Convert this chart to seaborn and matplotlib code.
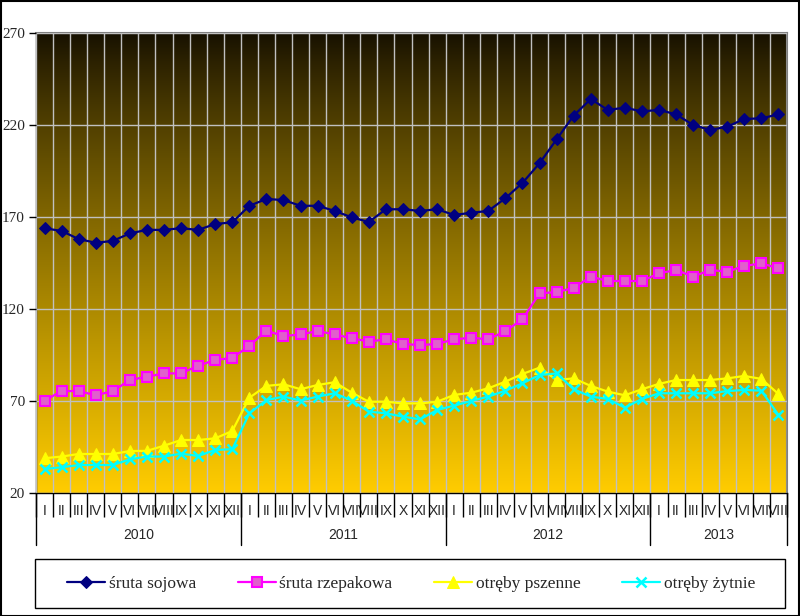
import numpy as np
import pandas as pd
import matplotlib
matplotlib.use("Agg")
import matplotlib.pyplot as plt
import matplotlib.transforms as mtransforms
from matplotlib.patches import Rectangle
from matplotlib.lines import Line2D
import seaborn as sns

months = ["I", "II", "III", "IV", "V", "VI", "VII", "VIII", "IX", "X", "XI", "XII"]
years = ["2010", "2011", "2012", "2013"]
months_per_year = [12, 12, 12, 8]
month_labels = months * 3 + months[:8]

soja = [163.9, 162.4, 158.0, 156.0, 157.0, 161.1, 163.0, 163.0, 163.9, 163.0, 166.2, 167.1,
        176.1, 179.8, 179.2, 176.1, 176.1, 173.3, 169.8, 167.3, 174.2, 174.2, 173.3, 174.2,
        171.1, 172.3, 173.3, 180.2, 188.5, 199.2, 212.2, 225.1, 234.1, 228.2, 229.4, 227.4,
        228.2, 225.8, 220.0, 217.3, 219.1, 223.3, 223.6, 225.8]
rzepak = [70.2, 75.4, 75.4, 73.1, 75.4, 81.4, 83.2, 85.0, 85.0, 89.2, 92.3, 93.4,
          100.0, 108.2, 105.3, 106.2, 108.0, 106.2, 104.1, 102.3, 103.5, 101.0, 100.4, 101.0,
          103.5, 104.4, 103.5, 108.0, 114.4, 128.5, 129.2, 131.4, 137.6, 135.2, 135.2, 135.2,
          139.4, 141.2, 137.6, 141.2, 140.3, 143.4, 144.8, 142.1]
pszenne = [38.9, 39.8, 41.2, 41.2, 41.2, 42.8, 42.9, 45.7, 48.8, 48.8, 49.7, 53.7,
           71.8, 78.2, 79.1, 76.4, 78.7, 80.2, 74.5, 69.6, 69.6, 68.7, 68.7, 69.6,
           73.3, 74.5, 76.9, 80.5, 84.7, 88.1, 81.4, 82.3, 78.2, 75.1, 73.1, 76.4,
           79.3, 81.4, 81.4, 81.4, 82.3, 83.6, 82.0, 73.8]
zytnie = [33.0, 34.0, 35.2, 35.2, 35.2, 38.3, 39.8, 39.8, 41.4, 40.1, 43.4, 43.8,
          63.3, 70.5, 72.4, 70.2, 72.4, 74.2, 70.2, 64.2, 63.3, 61.5, 60.0, 65.1,
          67.5, 70.0, 72.4, 75.6, 79.6, 84.1, 85.0, 76.4, 72.4, 71.1, 66.4, 71.1,
          74.2, 74.2, 74.2, 74.2, 75.4, 76.0, 75.6, 62.4]
series_names = ["śruta sojowa", "śruta rzepakowa", "otręby pszenne", "otręby żytnie"]
yticks = [20, 70, 120, 170, 220, 270]

n = len(month_labels)
x = np.arange(n)
df = pd.DataFrame({"x": x, "soja": soja, "rzepak": rzepak, "pszenne": pszenne, "zytnie": zytnie})

sns.set_style("white")
plt.rcParams["font.family"] = ["Liberation Serif", "DejaVu Serif"]

W, H = 800, 616
fig = plt.figure(figsize=(W / 100, H / 100), dpi=100)
L, R, T, B = 36, 787, 33, 493
ax = fig.add_axes([L / W, 1 - B / H, (R - L) / W, (B - T) / H])

# gradient background
t = np.linspace(0, 1, 256) ** 0.85
top = np.array([22, 16, 0]) / 255
bot = np.array([255, 204, 0]) / 255
grad = top[None, :] + (bot - top)[None, :] * t[:, None]
ax.imshow(grad[:, None, :], extent=[-0.5, n - 0.5, 20, 270], aspect="auto",
          origin="upper", zorder=0, interpolation="bilinear")

styles = [
    ("soja", dict(color="#000080", marker="D", markersize=6.5, markerfacecolor="#000080",
                  markeredgecolor="#000080")),
    ("rzepak", dict(color="#ff00ff", marker="s", markersize=7, markerfacecolor="#e060cc",
                    markeredgecolor="#ff00ff", markeredgewidth=1.5)),
    ("pszenne", dict(color="#ffff00", marker="^", markersize=8, markerfacecolor="#ffff00",
                     markeredgecolor="#ffff00")),
    ("zytnie", dict(color="#00ffff", marker="x", markersize=7, markeredgewidth=1.8,
                    markeredgecolor="#00ffff")),
]
for (col, kw), name in zip(styles, series_names):
    sns.lineplot(data=df, x="x", y=col, ax=ax, linewidth=1.6, label=name, zorder=3, **kw)

ax.set_xlim(-0.5, n - 0.5)
ax.set_ylim(20, 270)
ax.set_xlabel("")
ax.set_ylabel("")
ax.set_yticks(yticks)
ax.set_yticklabels([str(v) for v in yticks], fontsize=11, family=["Liberation Serif"])
ax.tick_params(axis="y", which="major", length=5, width=1, color="black", pad=3, left=True)

ax.set_xticks(x)
ax.set_xticklabels(month_labels, fontsize=10, family=["Liberation Sans"])
ax.set_xticks(np.arange(n + 1) - 0.5, minor=True)
ax.tick_params(axis="x", which="major", length=0, pad=8, bottom=True)
ax.tick_params(axis="x", which="minor", length=17, width=1, color="black", bottom=True)

ax.set_axisbelow(False)
ax.grid(False)
ax.grid(True, which="minor", axis="x", color="#c0c0c0", linewidth=1)
ax.grid(True, which="major", axis="y", color="#c0c0c0", linewidth=1)

for s in ["top", "right"]:
    ax.spines[s].set_color("#808080")
    ax.spines[s].set_linewidth(1.5)
for s in ["left", "bottom"]:
    ax.spines[s].set_color("black")
    ax.spines[s].set_linewidth(1)

# year separators and labels
trans = mtransforms.blended_transform_factory(ax.transData, ax.transAxes)
bounds = np.concatenate([[0], np.cumsum(months_per_year)]) - 0.5
for b in bounds:
    ax.add_line(Line2D([b, b], [0, -52 / (B - T)], transform=trans, color="black",
                       linewidth=1, clip_on=False))
for i, yr in enumerate(years):
    c = (bounds[i] + bounds[i + 1]) / 2
    ax.text(c, -(535 - B) / (B - T), yr, transform=trans, ha="center", va="center",
            fontsize=10, family=["Liberation Sans"])

# legend
handles, labels = ax.get_legend_handles_labels()
ax.get_legend().remove()
fig.patches.append(Rectangle((35 / W, 1 - 608 / H), 750 / W, 49 / H, transform=fig.transFigure,
                             facecolor="white", edgecolor="black", linewidth=1, zorder=5))
leg = fig.legend(handles, labels, loc="center", bbox_to_anchor=(411 / W, 1 - 583.5 / H),
                 ncol=4, frameon=False, handlelength=2.2, handletextpad=0.2,
                 columnspacing=2.4, prop={"family": ["Liberation Serif"], "size": 12.5})
leg.set_zorder(6)

# outer border
fig.patches.append(Rectangle((0.5 / W, 0.5 / H), (W - 1.5) / W, (H - 1.5) / H,
                             transform=fig.transFigure, facecolor="none", edgecolor="black",
                             linewidth=1.5, zorder=10))

fig.savefig("out.png", dpi=100)
